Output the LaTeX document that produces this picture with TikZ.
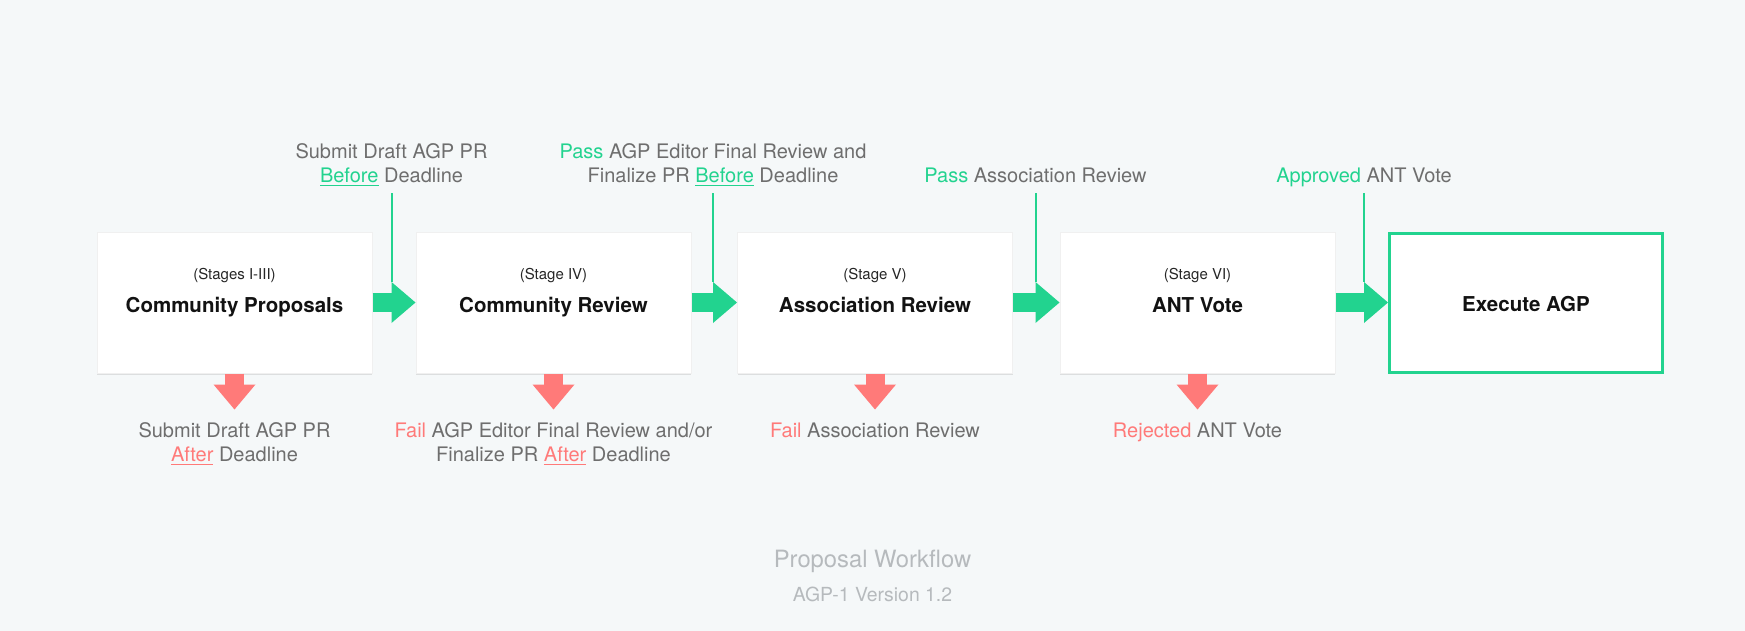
\documentclass[tikz,border=0pt]{standalone}
\usepackage{fontspec}
\setmainfont{TeX Gyre Heros}
\usepackage{tikz}
\usetikzlibrary{arrows.meta}
\usetikzlibrary{calc}
\usetikzlibrary{shadows}

\definecolor{passgreen}{HTML}{22D38F}
\definecolor{failred}{HTML}{FF7A79}
\definecolor{notegray}{HTML}{6E6E6E}
\definecolor{pagebg}{HTML}{F5F8F9}
\definecolor{footgray}{HTML}{B6BABD}

\newcommand{\passw}[1]{\textcolor{passgreen}{#1}}
\newcommand{\failw}[1]{\textcolor{failred}{#1}}
\newcommand{\passu}[1]{\textcolor{passgreen}{\underline{#1}}}
\newcommand{\failu}[1]{\textcolor{failred}{\underline{#1}}}
% lines of a note, kept on the last (b) or first (t) baseline
\newcommand{\notelines}[2]{\begin{tabular}[#1]{@{}c@{}}#2\end{tabular}}

\tikzset{
  stagebox/.style={fill=white, draw=black!6, line width=0.5pt, inner sep=0pt,
    minimum width=137.5pt, minimum height=70.5pt,
    drop shadow={shadow xshift=0.2pt, shadow yshift=-0.8pt, opacity=0.1, fill=black}},
  stagesub/.style={anchor=base, font=\fontsize{7.5}{9}\selectfont, text=black!85},
  stagetitle/.style={anchor=base, font=\fontsize{10.25}{12}\selectfont\bfseries, text=black!93},
  note/.style={anchor=base, inner sep=0pt, outer sep=0pt, text=notegray,
    font=\fontsize{10}{12}\selectfont},
  passarrow/.style={passgreen, line width=9.5pt,
    -{Triangle[length=12pt, width=20.5pt, line width=0pt]}},
  failarrow/.style={failred, line width=9.5pt,
    -{Triangle[length=12.5pt, width=21pt, line width=0pt]}, shorten >=5.6pt},
  passline/.style={passgreen, line width=1pt, shorten <=1.9pt},
  wftitle/.style={anchor=base, text=footgray, font=\fontsize{11.9}{14}\selectfont},
  wfversion/.style={anchor=base, text=footgray, font=\fontsize{9.7}{12}\selectfont}
}

\begin{document}
\begin{tikzpicture}[x=0.5pt,y=-0.5pt]
  \fill[pagebg] (0,0) rectangle (1745,631);
  \useasboundingbox (0,0) rectangle (1745,631);

  % stages
  \foreach \n/\x/\sub/\ttl in {cp/234.5/(Stages I-III)/Community Proposals,
      cr/553.5/(Stage IV)/Community Review,
      ar/875/(Stage V)/Association Review,
      av/1197.5/(Stage VI)/ANT Vote}{
    \node[stagebox] (\n) at (\x,302.5) {};
    \node[stagesub] (\n-sub) at ($(\n.center)+(0,-23.5)$) {\sub};
    \node[stagetitle] (\n-title) at ($(\n.center)+(0,9.5)$) {\ttl};
  }
  \node[stagebox, draw=passgreen, line width=1.5pt, minimum width=136.5pt,
    minimum height=69.5pt] (ex) at (1526,302.5) {};
  \node[stagetitle] (ex-title) at ($(ex.center)+(0,9)$) {Execute AGP};

  % pass conditions
  \foreach \b/\k in {cr/1, ar/2, av/3, ex/4}
    \coordinate (in\k) at ($(\b.west)+(-24,-20.5)$);
  \node[note] (pass1) at ($(in1)+(0,-100)$) {\notelines{b}{Submit Draft AGP PR\\ \passu{Before} Deadline}};
  \node[note] (pass2) at ($(in2)+(0,-100)$) {\notelines{b}{\passw{Pass} AGP Editor Final Review and\\ Finalize PR \passu{Before} Deadline}};
  \node[note] (pass3) at ($(in3)+(0,-100)$) {\notelines{b}{\passw{Pass} Association Review}};
  \node[note] (pass4) at ($(in4)+(0,-100)$) {\notelines{b}{\passw{Approved} ANT Vote}};
  \foreach \k in {1,...,4}
    \draw[passline] (pass\k) -- (in\k);
  \foreach \a/\b in {cp/cr, cr/ar, ar/av, av/ex}
    \draw[passarrow] (\a.east) -- (\b.west);

  % fail conditions
  \node[note] (fail1) at ($(cp.south)+(0,64)$) {\notelines{t}{Submit Draft AGP PR\\ \failu{After} Deadline}};
  \node[note] (fail2) at ($(cr.south)+(0,64)$) {\notelines{t}{\failw{Fail} AGP Editor Final Review and/or\\ Finalize PR \failu{After} Deadline}};
  \node[note] (fail3) at ($(ar.south)+(0,64)$) {\notelines{t}{\failw{Fail} Association Review}};
  \node[note] (fail4) at ($(av.south)+(0,64)$) {\notelines{t}{\failw{Rejected} ANT Vote}};
  \foreach \a/\k in {cp/1, cr/2, ar/3, av/4}
    \draw[failarrow] (\a.south) -- (fail\k.north);

  % caption
  \node[wftitle] (wf) at (872.5,567) {Proposal Workflow};
  \node[wfversion] (wfv) at (872.5,601) {AGP-1 Version 1.2};
\end{tikzpicture}
\end{document}
